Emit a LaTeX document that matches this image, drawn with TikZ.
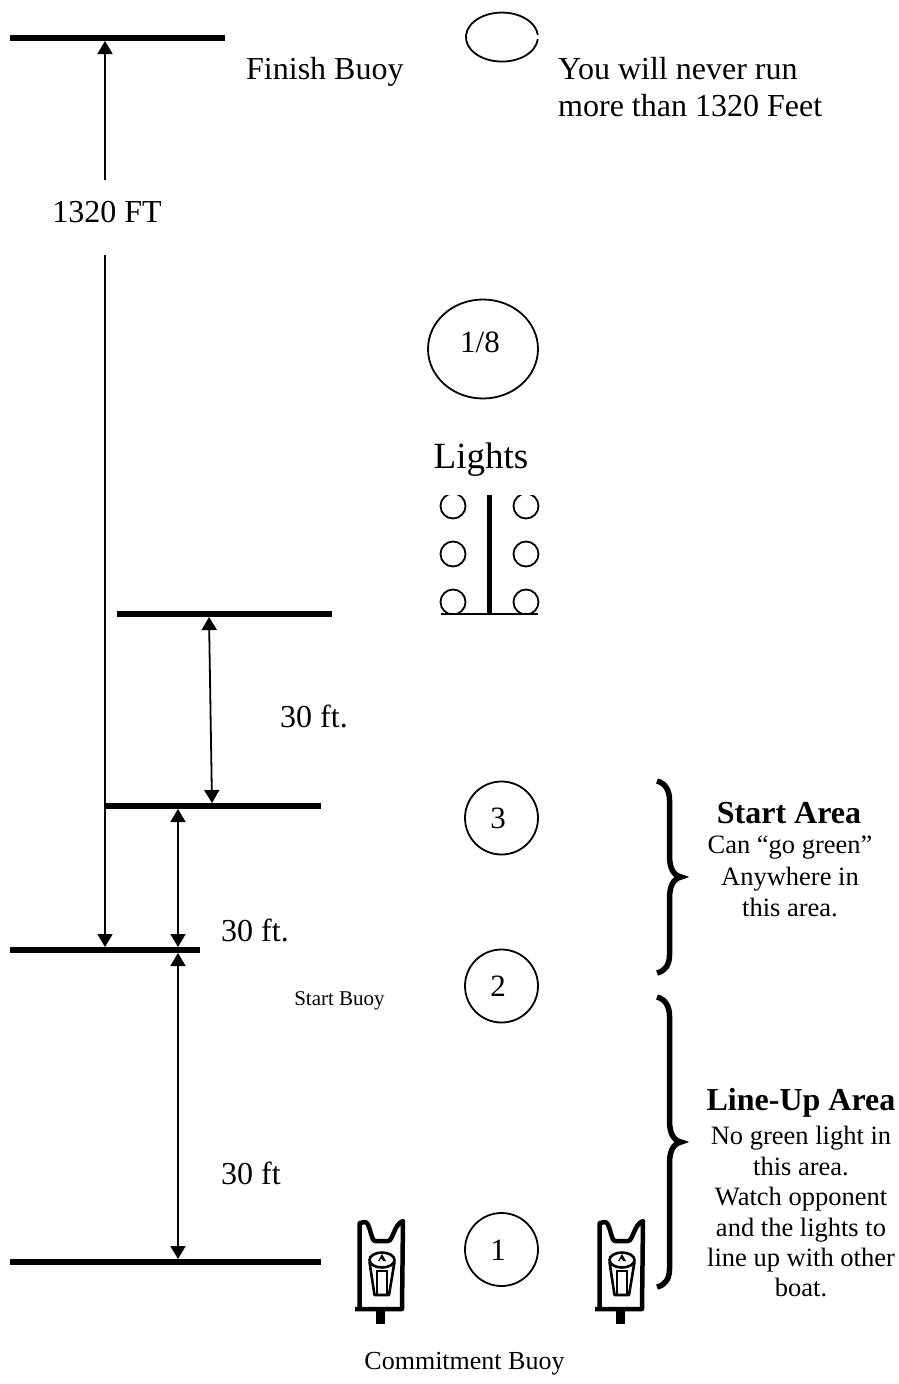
\documentclass[tikz,border=0pt]{standalone}
\usepackage{fontspec}
\setmainfont{Liberation Serif}
\usetikzlibrary{arrows.meta,shapes.geometric}
\newcommand{\fsz}[1]{\fontsize{#1}{#1}\selectfont}
\tikzset{
  bar/.style={line width=6pt},
  dim/.style={line width=1.8pt,>={Triangle[length=13pt,width=15pt]}},
  ring/.style={circle,draw,line width=1.8pt,inner sep=0pt,minimum size=#1},
  lamp/.style={circle,draw,line width=1.8pt},
  brace/.style={line width=5.5pt,line join=miter},
  lbl/.style={inner sep=0pt,align=center},
  pics/buoy/.style={code={
    \draw[line width=4.5pt,line join=round] (15,109) -- (62,109) -- (63,21) .. controls (54,24) and (53,41) .. (48,41) -- (35,41) .. controls (31,41) and (30,22) .. (25,22) -- (19.5,23) -- (19.5,109);
    \fill (36,109) rectangle (45,124);
    \draw[line width=2.6pt] (42,60) ellipse[x radius=12.5,y radius=7.5];
    \draw[line width=2.6pt,line join=round] (29.5,62) -- (34.5,95) -- (49,95) -- (54.5,62);
    \draw[line width=2.6pt] (37,95) -- (37,71) -- (47,71) -- (47,95);
    \fill (42,54) -- (46,61) -- (38,61) -- cycle;
    \fill[white] (41,58.5) -- (43,61) -- (39.5,61) -- cycle;
  }}
}
\begin{document}
\begin{tikzpicture}[x=1pt,y=-1pt]
\useasboundingbox (0,0) rectangle (898,1384);
% bars
\coordinate (b1l) at (10,38);   \coordinate (b1r) at (225,38);
\coordinate (b2l) at (117,614); \coordinate (b2r) at (332,614);
\coordinate (b3l) at (106,805.5); \coordinate (b3r) at (321,805.5);
\coordinate (b4l) at (10,950);  \coordinate (b4r) at (200,950);
\coordinate (b5l) at (10,1262); \coordinate (b5r) at (321,1262);
\draw[bar] (b1l) -- (b1r);
\draw[bar] (b2l) -- (b2r);
\draw[bar] (b3l) -- (b3r);
\draw[bar] (b4l) -- (b4r);
\draw[bar] (b5l) -- (b5r);
% labels
\node[lbl,anchor=base west] (finish) at (246,79) {\fsz{32}Finish Buoy};
\node[lbl,anchor=base west] (never1) at (558,79) {\fsz{32}You will never run};
\node[lbl,anchor=base west] (never2) at (558,116) {\fsz{32}more than 1320 Feet};
\node[lbl,anchor=base] (ft1320) at (107,222) {\fsz{32}1320 FT};
\node[lbl,anchor=base] (lights) at (481,468) {\fsz{37}Lights};
\node[lbl,anchor=base west] (t30a) at (280,727) {\fsz{32}30 ft.};
\node[lbl,anchor=base west] (t30b) at (221,941) {\fsz{32}30 ft.};
\node[lbl,anchor=base west] (t30c) at (221,1184) {\fsz{32}30 ft};
\node[lbl,anchor=base] (startbuoy) at (339.5,1005) {\fsz{21}Start Buoy};
\node[lbl,anchor=base] (commit) at (464.5,1369) {\fsz{26}Commitment Buoy};
% dimension lines
\coordinate (a1t) at (105,41);  \coordinate (a1b) at (105,180);
\coordinate (a2t) at (105,255); \coordinate (a2b) at (105,947);
\coordinate (a3t) at (209,617); \coordinate (a3b) at (212,803);
\coordinate (a4t) at (178,809); \coordinate (a4b) at (178,947);
\coordinate (a5t) at (178,953); \coordinate (a5b) at (178,1259);
\draw[dim,->] (a1b) -- (a1t);
\draw[dim,->] (a2t) -- (a2b);
\draw[dim,<->] (a3t) -- (a3b);
\draw[dim,<->] (a4t) -- (a4b);
\draw[dim,<->] (a5t) -- (a5b);
% circles
\draw[line width=1.8pt] (537.8,39.2) arc[start angle=5,end angle=355,x radius=36,y radius=24.5];
\node[ellipse,draw,line width=1.8pt,inner sep=0pt,minimum width=110pt,minimum height=99pt] (c18) at (483,349) {};
\node[ring=73pt] (c3) at (501.5,818) {};
\node[ring=73pt] (c2) at (501.5,986) {};
\node[ring=73pt] (c1) at (501.5,1249.5) {};
\node[lbl] (n18) at (480,342) {\fsz{31}1/8};
\node[lbl] (n3) at (498,818) {\fsz{31}3};
\node[lbl] (n2) at (498,986) {\fsz{31}2};
\node[lbl] (n1) at (498,1250) {\fsz{31}1};
% lights
\begin{scope}
\clip (430,495) rectangle (550,614);
\foreach \px/\py in {453/506,453/554,453/602,526/506,526/554,526/602}
  \draw[lamp] (\px,\py) circle[radius=12.5];
\end{scope}
\coordinate (pt) at (489.5,495); \coordinate (pb) at (489.5,614);
\coordinate (gl) at (441,614);   \coordinate (gr) at (538,614);
\draw[line width=5pt] (pt) -- (pb);
\draw[line width=2pt] (gl) -- (gr);
% braces
\draw[brace] (657,781) .. controls (665,783) and (669.5,790) .. (669.5,800) -- (669.5,855) .. controls (669.5,868) and (673,875) .. (681,877) .. controls (673,879) and (669.5,886) .. (669.5,899) -- (669.5,955) .. controls (669.5,965) and (665,971) .. (657,973);
\draw[brace] (657,997) .. controls (665,999) and (669.5,1006) .. (669.5,1016) -- (669.5,1120) .. controls (669.5,1133) and (673,1140) .. (681,1142) .. controls (673,1144) and (669.5,1151) .. (669.5,1164) -- (669.5,1269) .. controls (669.5,1279) and (665,1285) .. (657,1287);
% side text
\node[lbl,anchor=base] (sa) at (789,823) {\fsz{32}\bfseries Start Area};
\node[lbl,anchor=base] (sa1) at (790,853) {\fsz{26.5}Can “go green”};
\node[lbl,anchor=base] (sa2) at (790,885) {\fsz{26.5}Anywhere in};
\node[lbl,anchor=base] (sa3) at (790,916) {\fsz{26.5}this area.};
\node[lbl,anchor=base] (lu) at (801,1110) {\fsz{32}\bfseries Line-Up Area};
\node[lbl,anchor=base] (lu1) at (801,1144) {\fsz{26.5}No green light in};
\node[lbl,anchor=base] (lu2) at (801,1175) {\fsz{26.5}this area.};
\node[lbl,anchor=base] (lu3) at (801,1205) {\fsz{26.5}Watch opponent};
\node[lbl,anchor=base] (lu4) at (801,1236) {\fsz{26.5}and the lights to};
\node[lbl,anchor=base] (lu5) at (801,1266) {\fsz{26.5}line up with other};
\node[lbl,anchor=base] (lu6) at (801,1296) {\fsz{26.5}boat.};
% buoys
\pic at (340,1200) {buoy};
\pic at (580,1200) {buoy};
\end{tikzpicture}
\end{document}
